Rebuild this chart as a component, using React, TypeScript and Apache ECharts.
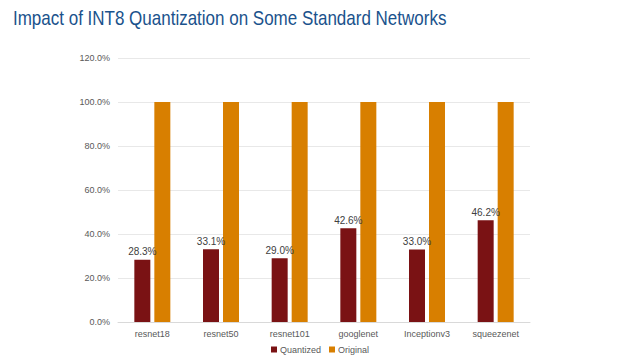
import React, { useEffect, useRef } from "react";
import * as echarts from "echarts";

const categories = ["resnet18", "resnet50", "resnet101", "googlenet", "Inceptionv3", "squeezenet"];
const quantized = [28.3, 33.1, 29.0, 42.6, 33.0, 46.2];
const original = [100, 100, 100, 100, 100, 100];
const titleText = "Impact of INT8 Quantization on Some Standard Networks";

export default function App() {
  const ref = useRef<HTMLDivElement>(null);
  useEffect(() => {
    const chart = echarts.init(ref.current!, undefined, { renderer: "svg" });
    const font = "'Liberation Sans', Arial, sans-serif";
    chart.setOption({
      animation: false,
      backgroundColor: "#ffffff",
      graphic: [
        {
          type: "text",
          x: 13,
          y: 8,
          scaleX: 0.85,
          style: {
            text: titleText,
            fontFamily: font,
            fontSize: 20,
            fill: "#1a528c",
            textVerticalAlign: "top",
          },
        },
      ],
      legend: {
        top: 340,
        left: "center",
        itemWidth: 6,
        itemHeight: 6,
        itemGap: 8,
        icon: "rect",
        textStyle: { fontFamily: font, fontSize: 9, color: "#595959", padding: [0, 0, 0, -2] },
        data: ["Quantized", "Original"],
      },
      grid: { left: 118, right: 110, top: 58, bottom: 38 },
      xAxis: {
        type: "category",
        data: categories,
        axisLine: { lineStyle: { color: "#d9d9d9" } },
        axisTick: { show: false },
        axisLabel: { fontFamily: font, fontSize: 9, color: "#595959", margin: 7 },
      },
      yAxis: {
        type: "value",
        min: 0,
        max: 120,
        interval: 20,
        axisLine: { show: false },
        axisTick: { show: false },
        splitLine: { lineStyle: { color: "#e8e8e8" } },
        axisLabel: {
          fontFamily: font,
          fontSize: 9,
          color: "#595959",
          margin: 8,
          formatter: (v: number) => v.toFixed(1) + "%",
        },
      },
      series: [
        {
          name: "Quantized",
          type: "bar",
          data: quantized,
          barWidth: 16,
          barGap: "25%",
          itemStyle: { color: "#7a1214" },
          label: {
            show: true,
            position: "top",
            distance: 3,
            fontFamily: font,
            fontSize: 10,
            color: "#404040",
            formatter: (p: any) => Number(p.value).toFixed(1) + "%",
          },
        },
        {
          name: "Original",
          type: "bar",
          data: original,
          barWidth: 16,
          itemStyle: { color: "#d87f00" },
        },
      ],
    });
    return () => chart.dispose();
  }, []);
  return <div ref={ref} style={{ position: "absolute", left: 0, top: 0, width: 640, height: 360 }} />;
}
